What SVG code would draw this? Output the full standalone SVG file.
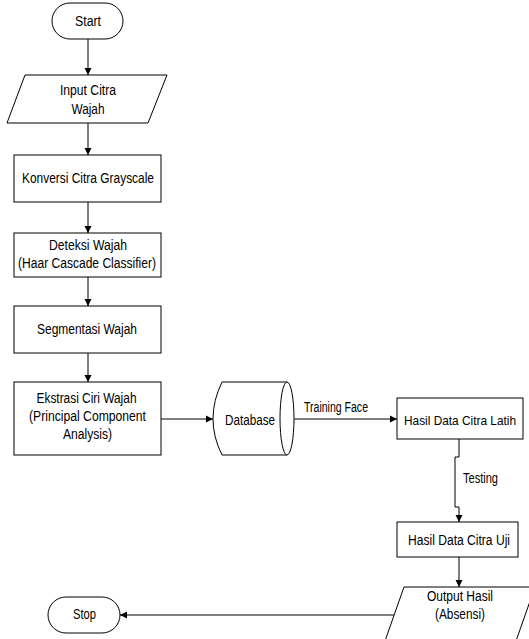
<svg xmlns="http://www.w3.org/2000/svg" width="529" height="639" viewBox="0 0 529 639">
<style>
.s{fill:#fff;stroke:#000;stroke-width:1}
.c{fill:none;stroke:#000;stroke-width:1}
text{font-family:"Liberation Sans Narrow","Arial Narrow","Liberation Sans",Arial,sans-serif;font-size:14px;fill:#000;text-anchor:middle}
</style>
<defs>
<marker id="a" markerUnits="userSpaceOnUse" markerWidth="8" markerHeight="8" refX="7" refY="4" orient="auto">
<path d="M0,0.5 L7,4 L0,7.5 Z" fill="#000"/>
</marker>
</defs>
<rect width="529" height="639" fill="#fff"/>
<g id="connectors">
<path class="c" d="M88,39 V75" marker-end="url(#a)"/>
<path class="c" d="M88,123 V155" marker-end="url(#a)"/>
<path class="c" d="M88,202 V233" marker-end="url(#a)"/>
<path class="c" d="M88,277 V306" marker-end="url(#a)"/>
<path class="c" d="M88,353 V382" marker-end="url(#a)"/>
<path class="c" d="M161,419 H213" marker-end="url(#a)"/>
<path class="c" d="M293,419 H397" marker-end="url(#a)"/>
<path class="c" d="M459,439 V457 H455 V507 H459 V522" marker-end="url(#a)"/>
<path class="c" d="M459,557 V587" marker-end="url(#a)"/>
<path class="c" d="M394,615 H120" marker-end="url(#a)"/>
<text x="336" y="412" textLength="64" lengthAdjust="spacingAndGlyphs">Training Face</text>
<text x="480.5" y="483" textLength="35" lengthAdjust="spacingAndGlyphs">Testing</text>
</g>
<g id="start">
<rect class="s" x="52" y="3" width="71" height="36" rx="18"/>
<text x="88" y="26" textLength="26" lengthAdjust="spacingAndGlyphs">Start</text>
</g>
<g id="input">
<polygon class="s" points="25,75 167,75 148,123 7,123"/>
<text x="88" y="95" textLength="56" lengthAdjust="spacingAndGlyphs">Input Citra</text>
<text x="88" y="114" textLength="33" lengthAdjust="spacingAndGlyphs">Wajah</text>
</g>
<g id="konversi">
<rect class="s" x="14" y="155" width="147" height="47"/>
<text x="88" y="183" textLength="132" lengthAdjust="spacingAndGlyphs">Konversi Citra Grayscale</text>
</g>
<g id="deteksi">
<rect class="s" x="14" y="233" width="147" height="44"/>
<text x="88" y="250" textLength="78" lengthAdjust="spacingAndGlyphs">Deteksi Wajah</text>
<text x="87" y="268" textLength="138" lengthAdjust="spacingAndGlyphs">(Haar Cascade Classifier)</text>
</g>
<g id="segmentasi">
<rect class="s" x="14" y="306" width="147" height="47"/>
<text x="87" y="334" textLength="100" lengthAdjust="spacingAndGlyphs">Segmentasi Wajah</text>
</g>
<g id="ekstrasi">
<rect class="s" x="14" y="382" width="147" height="73"/>
<text x="86.5" y="403" textLength="100" lengthAdjust="spacingAndGlyphs">Ekstrasi Ciri Wajah</text>
<text x="87.5" y="421" textLength="117" lengthAdjust="spacingAndGlyphs">(Principal Component</text>
<text x="87.5" y="439" textLength="49" lengthAdjust="spacingAndGlyphs">Analysis)</text>
</g>
<g id="database">
<path class="s" d="M222,382 H287 V455 H222 Q204,419 222,382 Z"/>
<ellipse class="s" cx="287" cy="418.5" rx="7" ry="36.5"/>
<text x="250" y="425" textLength="50" lengthAdjust="spacingAndGlyphs">Database</text>
</g>
<g id="latih">
<rect class="s" x="397" y="398" width="126" height="41"/>
<text x="460" y="425" style="font-size:13.5px" textLength="112" lengthAdjust="spacingAndGlyphs">Hasil Data Citra Latih</text>
</g>
<g id="uji">
<rect class="s" x="397" y="522" width="121" height="35"/>
<text x="459" y="545" textLength="102" lengthAdjust="spacingAndGlyphs">Hasil Data Citra Uji</text>
</g>
<g id="output">
<polygon class="s" points="404,587 535,587 516,641 385,641"/>
<text x="460" y="601" textLength="66" lengthAdjust="spacingAndGlyphs">Output Hasil</text>
<text x="460" y="619" textLength="50" lengthAdjust="spacingAndGlyphs">(Absensi)</text>
</g>
<g id="stop">
<rect class="s" x="48" y="597" width="72" height="36" rx="18"/>
<text x="84.5" y="619" textLength="23" lengthAdjust="spacingAndGlyphs">Stop</text>
</g>
</svg>
